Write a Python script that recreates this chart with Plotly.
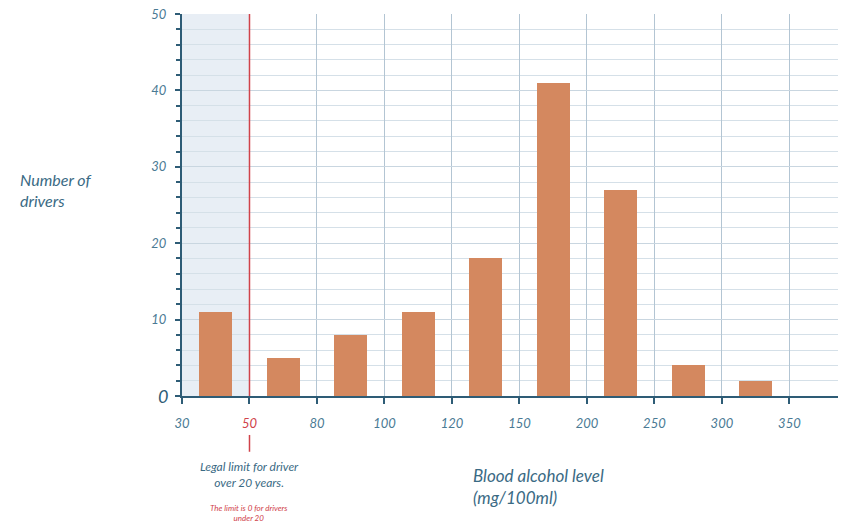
import plotly.graph_objects as go

tick_labels = ["30", "50", "80", "100", "120", "150", "200", "250", "300", "350"]
bin_labels = ["30–50", "50–80", "80–100", "100–120", "120–150", "150–200", "200–250", "250–300", "300–350"]
drivers = [11, 5, 8, 11, 18, 41, 27, 4, 2]
y_ticks = [0, 10, 20, 30, 40, 50]

TEAL = "#3a6a84"
AXIS = "#2e5c76"
RED = "#d0424a"
BAR = "#d4885f"
LBL = "#4a7a94"

bar_x = [i + 0.5 for i in range(len(drivers))]

fig = go.Figure()
fig.add_trace(go.Bar(x=bar_x, y=drivers, width=0.49, marker=dict(color=BAR, line=dict(width=0)),
                     customdata=bin_labels, hovertemplate="%{customdata}: %{y}<extra></extra>"))

ticktext = []
for t in tick_labels:
    if t == "50":
        ticktext.append(f"<span style='color:{RED}'>{t}</span>")
    else:
        ticktext.append(t)

ytext = ["" if v == 0 else str(v) for v in y_ticks]

fig.update_layout(
    width=844, height=523,
    margin=dict(l=182, r=6, t=12, b=127),
    paper_bgcolor="white", plot_bgcolor="white",
    showlegend=False,
    font=dict(family="Lato", color=TEAL, style="italic"),
    xaxis=dict(
        range=[0, 9.72], tickmode="array", tickvals=list(range(len(tick_labels))), ticktext=ticktext,
        showgrid=True, gridcolor="#b3c5d3", gridwidth=1,
        showline=True, linecolor=AXIS, linewidth=2,
        ticks="outside", ticklen=6, tickcolor=AXIS, tickwidth=2,
        ticklabelstandoff=8,
        tickfont=dict(size=13, color=LBL, style="italic", family="Lato"),
        zeroline=False,
    ),
    yaxis=dict(
        range=[0, 50], tickmode="array", tickvals=y_ticks, ticktext=ytext,
        showgrid=True, gridcolor="#c9d6e0", gridwidth=1,
        showline=True, linecolor=AXIS, linewidth=2,
        ticks="outside", ticklen=5, tickcolor=AXIS, tickwidth=1.5,
        ticklabelstandoff=6,
        tickfont=dict(size=13, color=LBL, style="italic", family="Lato"),
        minor=dict(dtick=2, tick0=0, ticks="outside", ticklen=4, tickcolor=AXIS, showgrid=True,
                   gridcolor="#d5e0e8", gridwidth=1),
        zeroline=False,
    ),
    bargap=0,
)

# shaded area below the legal limit
fig.add_shape(type="rect", xref="x", yref="y", x0=0, x1=1, y0=0, y1=50,
              fillcolor="rgba(205,218,232,0.45)", line=dict(width=0), layer="below")
# legal limit line
fig.add_shape(type="line", xref="x", yref="y", x0=1, x1=1, y0=0, y1=50,
              line=dict(color=RED, width=1.5), layer="above")
fig.add_shape(type="line", xref="x", yref="paper", x0=1, x1=1, y0=-0.102, y1=-0.146,
              line=dict(color=RED, width=1.5))

# larger zero label on the y axis
fig.add_annotation(xref="paper", yref="y", x=-0.018, y=0, xanchor="right", yanchor="middle",
                   text="0", showarrow=False,
                   font=dict(size=18, color=AXIS, family="Lato", style="italic"))
fig.add_annotation(xref="paper", yref="paper", x=-0.25, y=0.54, xanchor="left", yanchor="middle",
                   text="Number of<br>drivers", showarrow=False, align="left",
                   font=dict(size=16, color=TEAL, family="Lato", style="italic"))
fig.add_annotation(xref="x", yref="paper", x=1, y=-0.16, xanchor="center", yanchor="top",
                   text="Legal limit for driver<br>over 20 years.", showarrow=False, align="center",
                   font=dict(size=12, color=TEAL, family="Lato", style="italic"))
fig.add_annotation(xref="x", yref="paper", x=1, y=-0.275, xanchor="center", yanchor="top",
                   text="The limit is 0 for drivers<br>under 20", showarrow=False, align="center",
                   font=dict(size=8, color=RED, family="Lato", style="italic"))
fig.add_annotation(xref="x", yref="paper", x=4.28, y=-0.175, xanchor="left", yanchor="top",
                   text="Blood alcohol level<br>(mg/100ml)", showarrow=False, align="left",
                   font=dict(size=17, color=TEAL, family="Lato", style="italic"))

fig.write_html("out.html", config={"displayModeBar": False},
               post_script="document.body.style.margin='0';")
